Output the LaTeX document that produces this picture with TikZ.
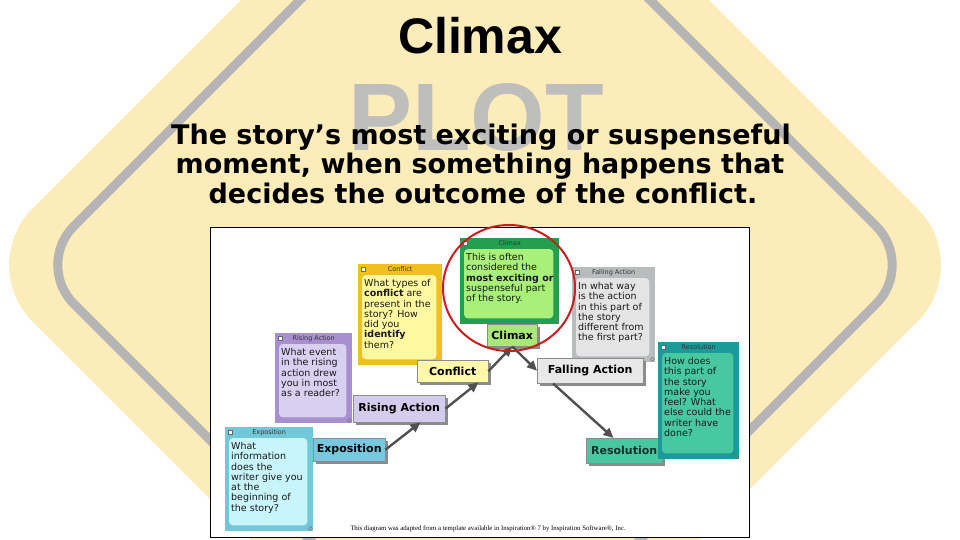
\documentclass[tikz,border=0pt]{standalone}
\usepackage{fontspec}
\newfontfamily\dvs{DejaVu Sans}
\newfontfamily\lsans{Liberation Sans}
\newfontfamily\lserif{Liberation Serif}
\usetikzlibrary{calc,arrows.meta,shadows,shapes.geometric}
\definecolor{signyellow}{RGB}{252,236,186}
\definecolor{signgray}{RGB}{181,181,181}
\definecolor{plotgray}{RGB}{190,190,188}
\definecolor{arrowgray}{RGB}{80,80,80}
\definecolor{redc}{RGB}{200,30,30}
\definecolor{clOut}{RGB}{34,160,80}
\definecolor{clIn}{RGB}{168,240,122}
\definecolor{clLab}{RGB}{168,232,120}
\definecolor{coOut}{RGB}{240,192,32}
\definecolor{coIn}{RGB}{255,248,160}
\definecolor{coLab}{RGB}{255,248,170}
\definecolor{riOut}{RGB}{168,144,208}
\definecolor{riIn}{RGB}{216,208,240}
\definecolor{riLab}{RGB}{212,204,236}
\definecolor{exOut}{RGB}{112,200,216}
\definecolor{exIn}{RGB}{200,244,252}
\definecolor{exLab}{RGB}{120,200,224}
\definecolor{faOut}{RGB}{184,188,188}
\definecolor{faIn}{RGB}{228,228,228}
\definecolor{faLab}{RGB}{232,232,232}
\definecolor{reOut}{RGB}{26,154,152}
\definecolor{reIn}{RGB}{72,200,160}
\definecolor{reLab}{RGB}{72,200,160}
\newcommand\notecard[8]{%
  \node[notebox, fill=#5, minimum width=#3pt, minimum height=#4pt] (#1) at #2 {};
  \fill[#6, rounded corners=4pt] ($(#1.north west)+(4,11)$) rectangle ($(#1.south east)+(-6,-6)$);
  \node[hdr] at ($(#1.north)+(0,5.5)$) {#7};
  \filldraw[fill=white, draw=black!60, line width=0.3pt] ($(#1.north west)+(3,3)$) rectangle +(4,4);
  \draw[black!55, line width=0.4pt] ($(#1.south east)+(-3,-5)$) -- +(2,2) -- +(0,4) -- +(-2,2) -- cycle;
  \node[body] at ($(#1.north west)+(6,15)$) {#8};
}
\begin{document}
\begin{tikzpicture}[x=1pt,y=-1pt,
  notebox/.style={anchor=north west, inner sep=0, draw=none},
  hdr/.style={font=\dvs\fontsize{6.5}{6.5}\selectfont, text=black!80, inner sep=0},
  body/.style={anchor=north west, inner sep=0, align=left, font=\dvs\fontsize{9.5}{10.3}\selectfont, text=black!90},
  lbl/.style={anchor=north west, inner sep=0, draw=black!45, line width=0.4pt,
    font=\dvs\bfseries\fontsize{11}{12}\selectfont,
    drop shadow={shadow xshift=3pt, shadow yshift=-3pt, fill=black!45, opacity=1}},
  arr/.style={draw=arrowgray, line width=2.4pt, -{Triangle[length=10pt,width=9pt]}}]
\useasboundingbox (0,0) rectangle (960,540);
\fill[white] (0,0) rectangle (960,540);
\begin{scope}
  \clip (0,0) rectangle (960,540);
  \fill[signyellow, rounded corners=80pt] (-24,265) -- (475,-234) -- (974,265) -- (475,764) -- cycle;
  \draw[signgray, line width=9pt, rounded corners=55pt] (35,265) -- (475,-175) -- (915,265) -- (475,705) -- cycle;
\end{scope}
\node[font=\lsans\bfseries\fontsize{96}{96}\selectfont, text=plotgray, inner sep=0, anchor=base] (plot) at (476,151) {PLOT};
\node[font=\lsans\bfseries\fontsize{50}{50}\selectfont, inner sep=0, anchor=base] (title) at (480,54) {Climax};
\node[font=\dvs\bfseries\fontsize{27}{29}\selectfont, inner sep=0, anchor=base] (sub1) at (481,145) {The story’s most exciting or suspenseful};
\node[font=\dvs\bfseries\fontsize{27}{29}\selectfont, inner sep=0, anchor=base] (sub2) at (480,174) {moment, when something happens that};
\node[font=\dvs\bfseries\fontsize{27}{29}\selectfont, inner sep=0, anchor=base] (sub3) at (483,203) {decides the outcome of the conflict.};
% frame
\node[draw=black, line width=1pt, fill=white, minimum width=539pt, minimum height=310pt, anchor=north west, inner sep=0] (frame) at (210,227) {};
% notes
\notecard{climaxN}{(460,238)}{99}{86}{clOut}{clIn}{Climax}{This is often\\considered the\\\textbf{most exciting or}\\suspenseful part\\of the story.}
\notecard{conflictN}{(358,264)}{84}{101}{coOut}{coIn}{Conflict}{What types of\\\textbf{conflict} are\\present in the\\story? How\\did you\\\textbf{identify}\\them?}
\notecard{risingN}{(275,333)}{77}{90}{riOut}{riIn}{Rising Action}{What event\\in the rising\\action drew\\you in most\\as a reader?}
\notecard{expoN}{(225,427)}{88}{104}{exOut}{exIn}{Exposition}{What\\information\\does the\\writer give you\\at the\\beginning of\\the story?}
\notecard{fallingN}{(572,267)}{83}{95}{faOut}{faIn}{Falling Action}{In what way\\is the action\\in this part of\\the story\\different from\\the first part?}
% labels
\node[lbl, fill=clLab, minimum width=50pt, minimum height=22pt] (climaxL) at (487,324) {Climax};
\node[lbl, fill=coLab, minimum width=71pt, minimum height=22pt] (conflictL) at (417,360) {Conflict};
\node[lbl, fill=riLab, minimum width=92pt, minimum height=27pt] (risingL) at (353,395) {Rising Action};
\node[lbl, fill=exLab, minimum width=72pt, minimum height=23pt] (expoL) at (313,438) {Exposition};
\node[lbl, fill=faLab, minimum width=106pt, minimum height=25pt] (fallingL) at (537,358) {Falling Action};
\node[lbl, fill=reLab, minimum width=76pt, minimum height=25pt, text={rgb,255:red,16;green,48;blue,40}] (resolL) at (586,438) {Resolution};
\notecard{resolN}{(658,342)}{81}{117}{reOut}{reIn}{Resolution}{\color[RGB]{16,40,32}How does\\this part of\\the story\\make you\\feel? What\\else could the\\writer have\\done?}
% arrows
\draw[arr] (expoL.east) -- ($(risingL.south west)!0.73!(risingL.south east)$);
\draw[arr] (risingL.east) -- ($(conflictL.south west)!0.86!(conflictL.south east)$);
\draw[arr] (conflictL.east) -- (climaxL.south);
\draw[arr] (climaxL.south) -- (fallingL.west);
\draw[arr] ($(fallingL.south west)!0.15!(fallingL.south east)$) -- ($(resolL.north west)!0.36!(resolL.north east)$);
% highlight
\node[draw=redc, line width=2pt, ellipse, minimum width=132pt, minimum height=126pt, inner sep=0] (focus) at (509,288) {};
% credit
\node[font=\lserif\fontsize{6.8}{8}\selectfont, inner sep=0, anchor=base] (credit) at (488,530) {This diagram was adapted from a template available in Inspiration® 7 by Inspiration Software®, Inc.};
\end{tikzpicture}
\end{document}
